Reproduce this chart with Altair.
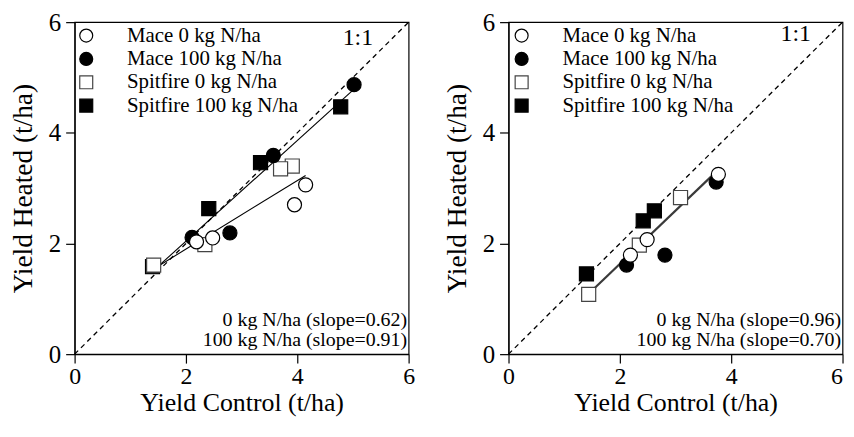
import altair as alt
import pandas as pd

SERIES = ["Mace 0 kg N/ha", "Mace 100 kg N/ha", "Spitfire 0 kg N/ha", "Spitfire 100 kg N/ha"]
SHAPES = ["circle", "circle", "square", "square"]
FILLS = ["white", "black", "white", "black"]
STROKES = ["black", "black", "#444444", "black"]

# ---- left panel values (t/ha) ----
L_mace0_x = [4.15, 3.95, 2.48, 2.19]
L_mace0_y = [3.06, 2.70, 2.10, 2.03]
L_mace100_x = [5.02, 3.57, 2.79, 2.11]
L_mace100_y = [4.87, 3.59, 2.19, 2.11]
L_spit0_x = [3.91, 3.70, 2.34, 1.42]
L_spit0_y = [3.40, 3.35, 1.98, 1.61]
L_spit100_x = [4.78, 3.34, 2.41, 1.40]
L_spit100_y = [4.47, 3.46, 2.63, 1.58]

# ---- right panel values (t/ha) ----
R_mace0_x = [3.77, 2.49, 2.19]
R_mace0_y = [3.25, 2.07, 1.79]
R_mace100_x = [3.73, 2.81, 2.12]
R_mace100_y = [3.11, 1.79, 1.61]
R_spit0_x = [3.09, 2.35, 1.44]
R_spit0_y = [2.83, 1.97, 1.08]
R_spit100_x = [2.62, 2.42, 1.40]
R_spit100_y = [2.59, 2.41, 1.45]

L_slopes = ["0 kg N/ha (slope=0.62)", "100 kg N/ha (slope=0.91)"]
R_slopes = ["0 kg N/ha (slope=0.96)", "100 kg N/ha (slope=0.70)"]

diag_vals = [0, 6]
ticks = [0, 2, 4, 6]

FONT = "Liberation Serif"
W = 336
H = 334


def make_df(sp100, sp0, m100, m0):
    rows = []
    # draw order: Spitfire 100, Spitfire 0, Mace 100, Mace 0 (open circles on top)
    for name, n, (xs, ys) in [("Spitfire 100 kg N/ha", "100", sp100),
                              ("Spitfire 0 kg N/ha", "0", sp0),
                              ("Mace 100 kg N/ha", "100", m100),
                              ("Mace 0 kg N/ha", "0", m0)]:
        for xv, yv in zip(xs, ys):
            rows.append({"series": name, "N": n, "x": xv, "y": yv})
    return pd.DataFrame(rows)


L_df = make_df((L_spit100_x, L_spit100_y), (L_spit0_x, L_spit0_y),
               (L_mace100_x, L_mace100_y), (L_mace0_x, L_mace0_y))
R_df = make_df((R_spit100_x, R_spit100_y), (R_spit0_x, R_spit0_y),
               (R_mace100_x, R_mace100_y), (R_mace0_x, R_mace0_y))
diag_df = pd.DataFrame({"x": diag_vals, "y": diag_vals})

yenc = alt.Y("y:Q", scale=alt.Scale(domain=[0, 6], nice=False),
             axis=alt.Axis(values=ticks, title="Yield Heated (t/ha)"))


def panel(df, line_groups, line_color, line_width, slope_texts, legend_x, one_x, one_y, flush_last):
    if flush_last:
        xaxis = alt.Axis(values=ticks, title="Yield Control (t/ha)",
                         labelAlign={"condition": {"test": "datum.value >= 6", "value": "right"},
                                     "value": "center"})
    else:
        xaxis = alt.Axis(values=ticks, title="Yield Control (t/ha)")
    xenc = alt.X("x:Q", scale=alt.Scale(domain=[0, 6], nice=False), axis=xaxis)

    diag = alt.Chart(diag_df).mark_line(
        color="black", strokeDash=[5, 4], strokeWidth=1.3
    ).encode(x=xenc, y=yenc)

    reg = alt.Chart(df).transform_filter(
        alt.FieldOneOfPredicate(field="N", oneOf=line_groups)
    ).transform_regression("x", "y", groupby=["N"]).mark_line(
        color=line_color, strokeWidth=line_width
    ).encode(x=xenc, y=yenc, detail="N:N")

    leg = alt.Legend(
        orient="none", legendX=legend_x, legendY=3, title=None,
        labelFont=FONT, labelFontSize=21, labelColor="black",
        symbolSize=170, symbolStrokeWidth=1.2, labelOffset=30.5,
        rowPadding=1.5, padding=0, labelLimit=400,
    )
    pts = alt.Chart(df).mark_point(
        filled=True, size=200, strokeWidth=1.2, opacity=1
    ).encode(
        x=xenc, y=yenc,
        shape=alt.Shape("series:N", scale=alt.Scale(domain=SERIES, range=SHAPES), legend=leg),
        fill=alt.Fill("series:N", scale=alt.Scale(domain=SERIES, range=FILLS), legend=leg),
        stroke=alt.Stroke("series:N", scale=alt.Scale(domain=SERIES, range=STROKES), legend=leg),
    )

    one = alt.Chart(pd.DataFrame({"t": ["1:1"]})).mark_text(
        font=FONT, fontSize=24, color="black", align="center", baseline="middle"
    ).encode(text="t:N", x=alt.value(one_x), y=alt.value(one_y))

    s1 = alt.Chart(pd.DataFrame({"t": [slope_texts[0]]})).mark_text(
        font=FONT, fontSize=20, color="black", align="right", baseline="middle"
    ).encode(text="t:N", x=alt.value(W - 1.5), y=alt.value(300))
    s2 = alt.Chart(pd.DataFrame({"t": [slope_texts[1]]})).mark_text(
        font=FONT, fontSize=20, color="black", align="right", baseline="middle"
    ).encode(text="t:N", x=alt.value(W - 1.5), y=alt.value(320))

    return alt.layer(diag, reg, pts, one, s1, s2).properties(width=W, height=H)


left = panel(L_df, ["0", "100"], "black", 1.1, L_slopes, 1.2, 285, 16, False)
right = panel(R_df, ["0"], "#3a3a3a", 2.2, R_slopes, 2.7, 289, 12, True)

chart = alt.hconcat(left, right, spacing=100.5, bounds="flush").resolve_scale(
    shape="independent", fill="independent", stroke="independent"
).properties(
    padding={"left": 0, "top": 0, "right": 0, "bottom": 0}
).configure_view(
    stroke="black", strokeWidth=1.2
).configure_axis(
    grid=False, labelFont=FONT, titleFont=FONT, labelFontSize=25, titleFontSize=27.5,
    titleFontWeight="normal", labelColor="black", titleColor="black",
    domainColor="black", tickColor="black", domainWidth=1.2, tickWidth=1.2,
    tickSize=9, labelFlush=False, labelOverlap=False
).configure_axisX(
    labelPadding=2, titlePadding=1, titleFontSize=26, labelFontSize=24
).configure_axisY(
    labelPadding=5, titlePadding=11
)

chart.save("out.html", embed_options={"renderer": "svg", "actions": False})
